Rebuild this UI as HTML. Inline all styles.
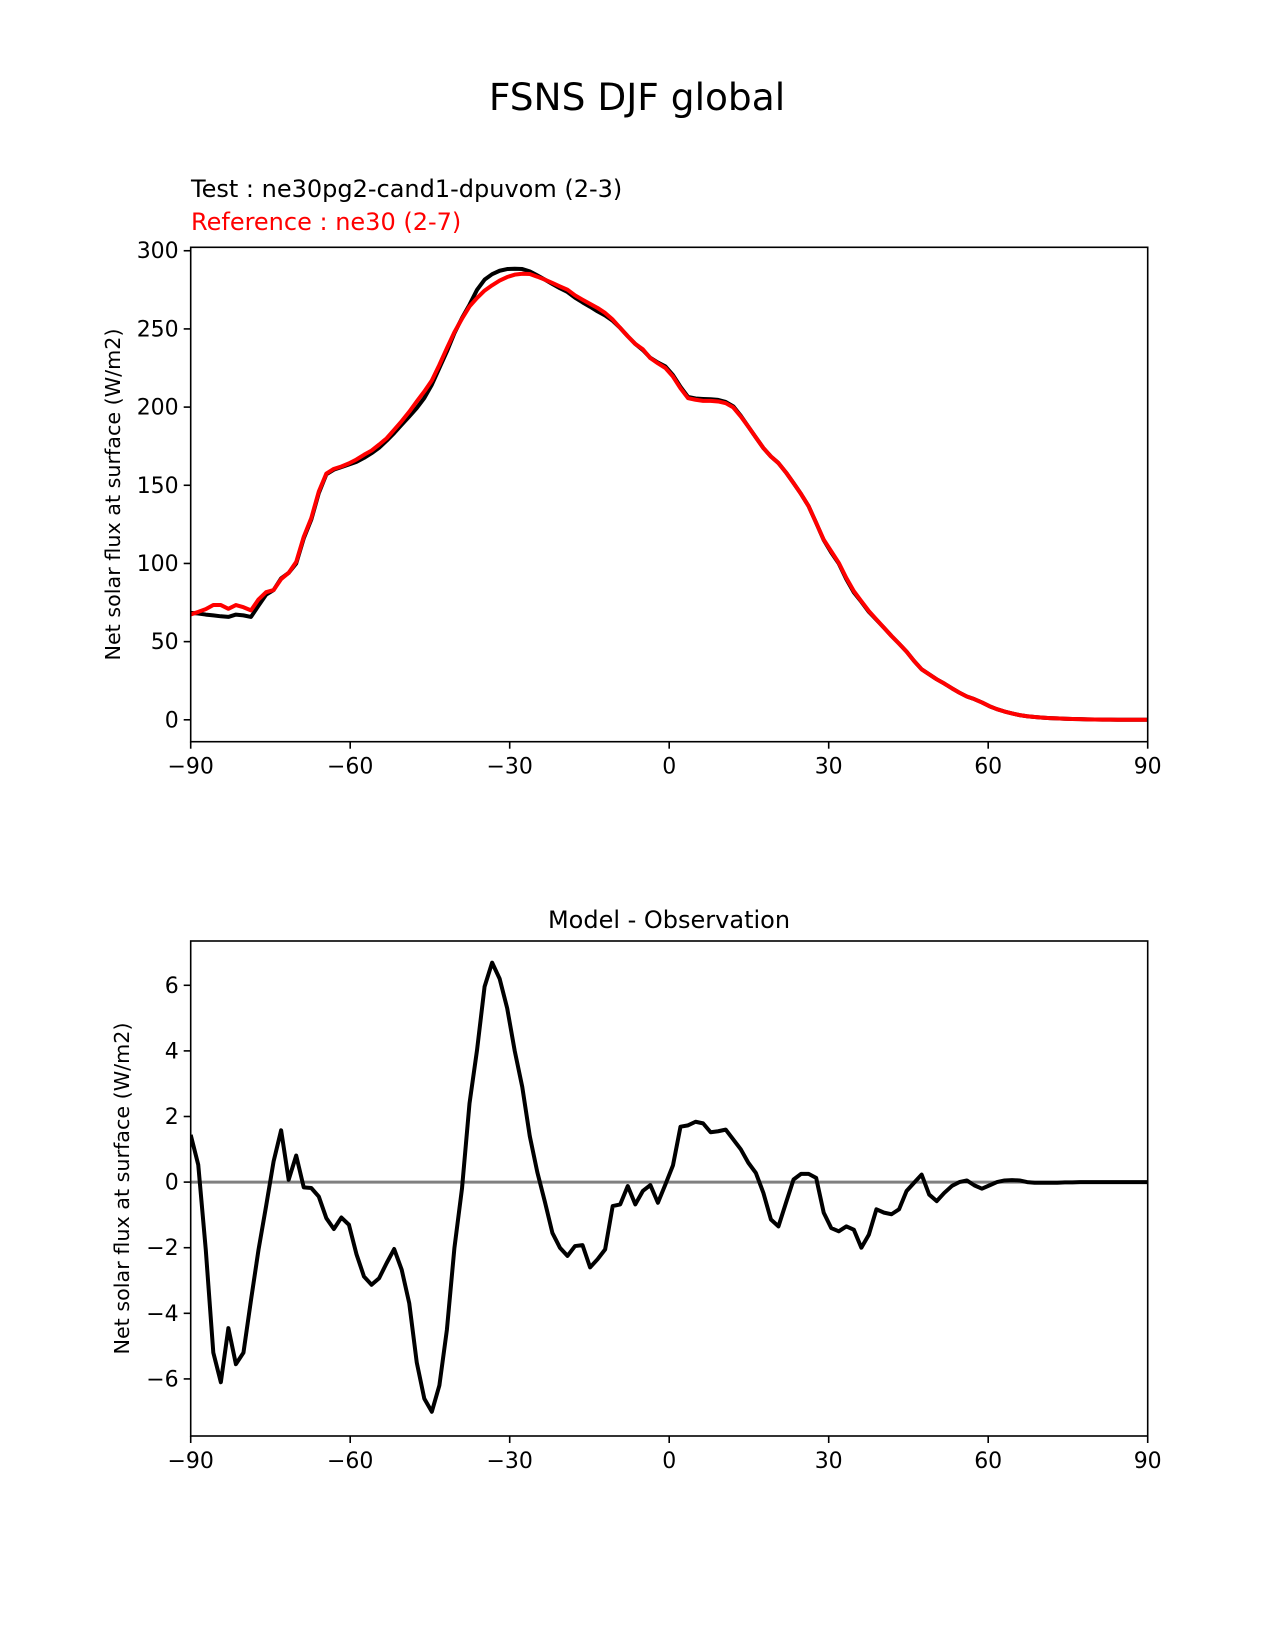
<!DOCTYPE html>
<html><head><meta charset="utf-8"><style>
html,body{margin:0;padding:0;background:#fff;}
svg{display:block;font-family:"DejaVu Sans","Liberation Sans",sans-serif;}
</style></head><body>
<svg id="fig" width="1275" height="1650" viewBox="0 0 1275 1650" xmlns="http://www.w3.org/2000/svg">
<rect width="1275" height="1650" fill="#fff"/>
<text x="637" y="110" font-size="37.5" text-anchor="middle">FSNS DJF global</text>
<text x="191" y="197" font-size="24">Test : ne30pg2-cand1-dpuvom (2-3)</text>
<text x="191" y="230" font-size="24" fill="#ff0000">Reference : ne30 (2-7)</text>
<text x="669" y="928" font-size="24" text-anchor="middle">Model - Observation</text>
<g id="top"></g>
<g id="bot"></g>
</svg>
<script>
const NPTS = 128;
const xTicks = [-90, -60, -30, 0, 30, 60, 90];
const topYTicks = [0, 50, 100, 150, 200, 250, 300];
const botYTicks = [-6, -4, -2, 0, 2, 4, 6];
const testVals = [68.4,68,67.3,66.8,66.2,65.8,67.3,66.8,65.8,73,80,83,90.5,94,100,116,128,145,157,160,161.6,163.3,165,167.5,170.5,174,178.5,183.4,188.8,194,199.4,205.8,214.3,225,235.6,247.3,257,265.5,275,281.5,285,287.2,288.3,288.5,288.3,286.8,284.2,281.5,278.7,276,273.6,270,267,264.2,261.2,258.6,255.2,250.6,245.3,240.4,236.5,231.5,228.5,226,220.5,213,206.5,205.5,205.2,205,204.6,203.3,200.5,194.5,187.5,180.6,173.8,168.4,164.2,158.2,151.4,144.4,136.6,126,115,107,100,90,81.5,75.5,69,64,58.9,53.6,48.7,43.6,37.6,32.3,29.1,25.9,23.2,20.2,17.4,14.9,13.2,11.1,8.7,6.8,5.3,4.1,3,2.3,1.8,1.4,1.1,0.9,0.7,0.5,0.4,0.3,0.2,0.15,0.1,0.05,0,0,0,0];
const refVals = [67.4,69,70.8,73.4,73.4,71,73.4,72,70,77,81.6,83,90,94,101,117,129,146,157.5,160.5,162,164,166.5,169.5,172.2,176,180,185.5,191,197,203.6,210,217,227,237.7,248,256.5,264.4,269.8,274.5,277.9,280.9,283.2,284.7,285.3,285.1,283.4,281.5,279.4,277.2,275.1,271.5,268.7,266,263.4,260.2,256,250.6,245.3,240.4,237,231.3,228,225,219.5,212,205.7,204.7,204,204,203.6,202.5,199.8,194,187.5,180.6,173.8,168.4,164.2,158.2,151.4,144.4,136.6,126,115.3,107.8,100.4,90.8,82.3,75.9,69.5,64.2,58.9,53.6,48.7,43.6,37.6,32.3,29.1,25.9,23.2,20.2,17.4,14.9,13.2,11.1,8.7,6.8,5.3,4.1,3,2.3,1.8,1.4,1.1,0.9,0.7,0.5,0.4,0.3,0.2,0.15,0.1,0.05,0,0,0,0];
const diffVals = [1.44,0.53,-2.06,-5.2,-6.1,-4.45,-5.55,-5.2,-3.6,-2.06,-0.74,0.63,1.58,0.07,0.81,-0.16,-0.18,-0.44,-1.10,-1.43,-1.08,-1.30,-2.2,-2.88,-3.13,-2.93,-2.47,-2.04,-2.67,-3.69,-5.5,-6.6,-7.0,-6.2,-4.5,-2.0,-0.2,2.4,4.03,5.96,6.69,6.2,5.3,4.0,2.9,1.4,0.3,-0.6,-1.55,-2.0,-2.25,-1.95,-1.92,-2.6,-2.35,-2.05,-0.73,-0.68,-0.12,-0.68,-0.27,-0.09,-0.63,-0.07,0.51,1.69,1.73,1.84,1.79,1.52,1.55,1.6,1.3,1.0,0.59,0.28,-0.33,-1.14,-1.35,-0.63,0.08,0.25,0.25,0.13,-0.93,-1.4,-1.5,-1.35,-1.45,-2.0,-1.6,-0.83,-0.93,-0.98,-0.83,-0.27,-0.02,0.23,-0.38,-0.58,-0.33,-0.12,0.0,0.05,-0.1,-0.2,-0.1,0.0,0.05,0.06,0.05,0.0,-0.02,-0.02,-0.02,-0.02,-0.01,-0.01,0,0,0,0,0,0,0,0,0,0];
const lats = [];
for (let i = 0; i < NPTS; i++) lats.push(-90 + i * 180 / (NPTS - 1));

const NS = "http://www.w3.org/2000/svg";
function mk(tag, attrs, parent) {
  const e = document.createElementNS(NS, tag);
  for (const k in attrs) e.setAttribute(k, attrs[k]);
  parent.appendChild(e);
  return e;
}
const AX_L = 190.7, AX_R = 1147.7;
function xScale(v) { return AX_L + (v + 90) / 180 * (AX_R - AX_L); }

function drawChart(g, top, bot, ymin, ymax, yTicks, ylabel, series, prefix) {
  const ys = v => bot - (v - ymin) / (ymax - ymin) * (bot - top);
  yTicks.forEach(t => {
    const y = ys(t);
    const tk = mk('line', {x1: AX_L - 7, x2: AX_L, y1: y, y2: y, stroke: '#000', 'stroke-width': 1.6}, g);
    
    
    const tl = mk('text', {x: AX_L - 12, y: y + 7.5, 'font-size': 22, 'text-anchor': 'end'}, g);
    tl.textContent = String(t).replace('-', '\u2212');
    
    
  });
  xTicks.forEach(t => {
    const x = xScale(t);
    const tk = mk('line', {x1: x, x2: x, y1: bot, y2: bot + 7, stroke: '#000', 'stroke-width': 1.6}, g);
    
    
    const tl = mk('text', {x: x, y: bot + 32, 'font-size': 22, 'text-anchor': 'middle'}, g);
    tl.textContent = String(t).replace('-', '\u2212');
    
    
  });
  const yl = mk('text', {x: 0, y: 0, 'font-size': 20.7, 'text-anchor': 'middle', transform: 'translate(' + (prefix === 'top' ? 120 : 129) + ',' + ((top + bot) / 2) + ') rotate(-90)'}, g);
  yl.textContent = ylabel;
  
  
  const cid = prefix + '-clip';
  const cp = mk('clipPath', {id: cid}, g);
  mk('rect', {x: AX_L, y: top, width: AX_R - AX_L, height: bot - top}, cp);
  series.forEach(s => {
    let d = '';
    if (s.hline !== undefined) {
      d = 'M' + xScale(-90) + ',' + ys(s.hline) + 'L' + xScale(90) + ',' + ys(s.hline);
    } else {
      s.vals.forEach((v, i) => { d += (i ? 'L' : 'M') + xScale(lats[i]).toFixed(2) + ',' + ys(v).toFixed(2); });
    }
    const p = mk('path', {d: d, fill: 'none', stroke: s.color, 'stroke-width': s.w, 'stroke-linejoin': 'round', 'clip-path': 'url(#' + cid + ')'}, g);
    
    
  });
  const fr = mk('rect', {x: AX_L, y: top, width: AX_R - AX_L, height: bot - top, fill: 'none', stroke: '#000', 'stroke-width': 1.6}, g);
  
  
}

drawChart(document.getElementById('top'), 247.3, 741.7, -14.0, 302.2, topYTicks,
  'Net solar flux at surface (W/m2)',
  [{vals: testVals, color: '#000', w: 4, name: 'test-line'},
   {vals: refVals, color: '#ff0000', w: 4, name: 'reference-line'}], 'top');
drawChart(document.getElementById('bot'), 941, 1436, -7.74, 7.35, botYTicks,
  'Net solar flux at surface (W/m2)',
  [{hline: 0, color: '#808080', w: 3, name: 'zero-line'},
   {vals: diffVals, color: '#000', w: 4, name: 'difference-line'}], 'bot');
</script>
</body></html>
